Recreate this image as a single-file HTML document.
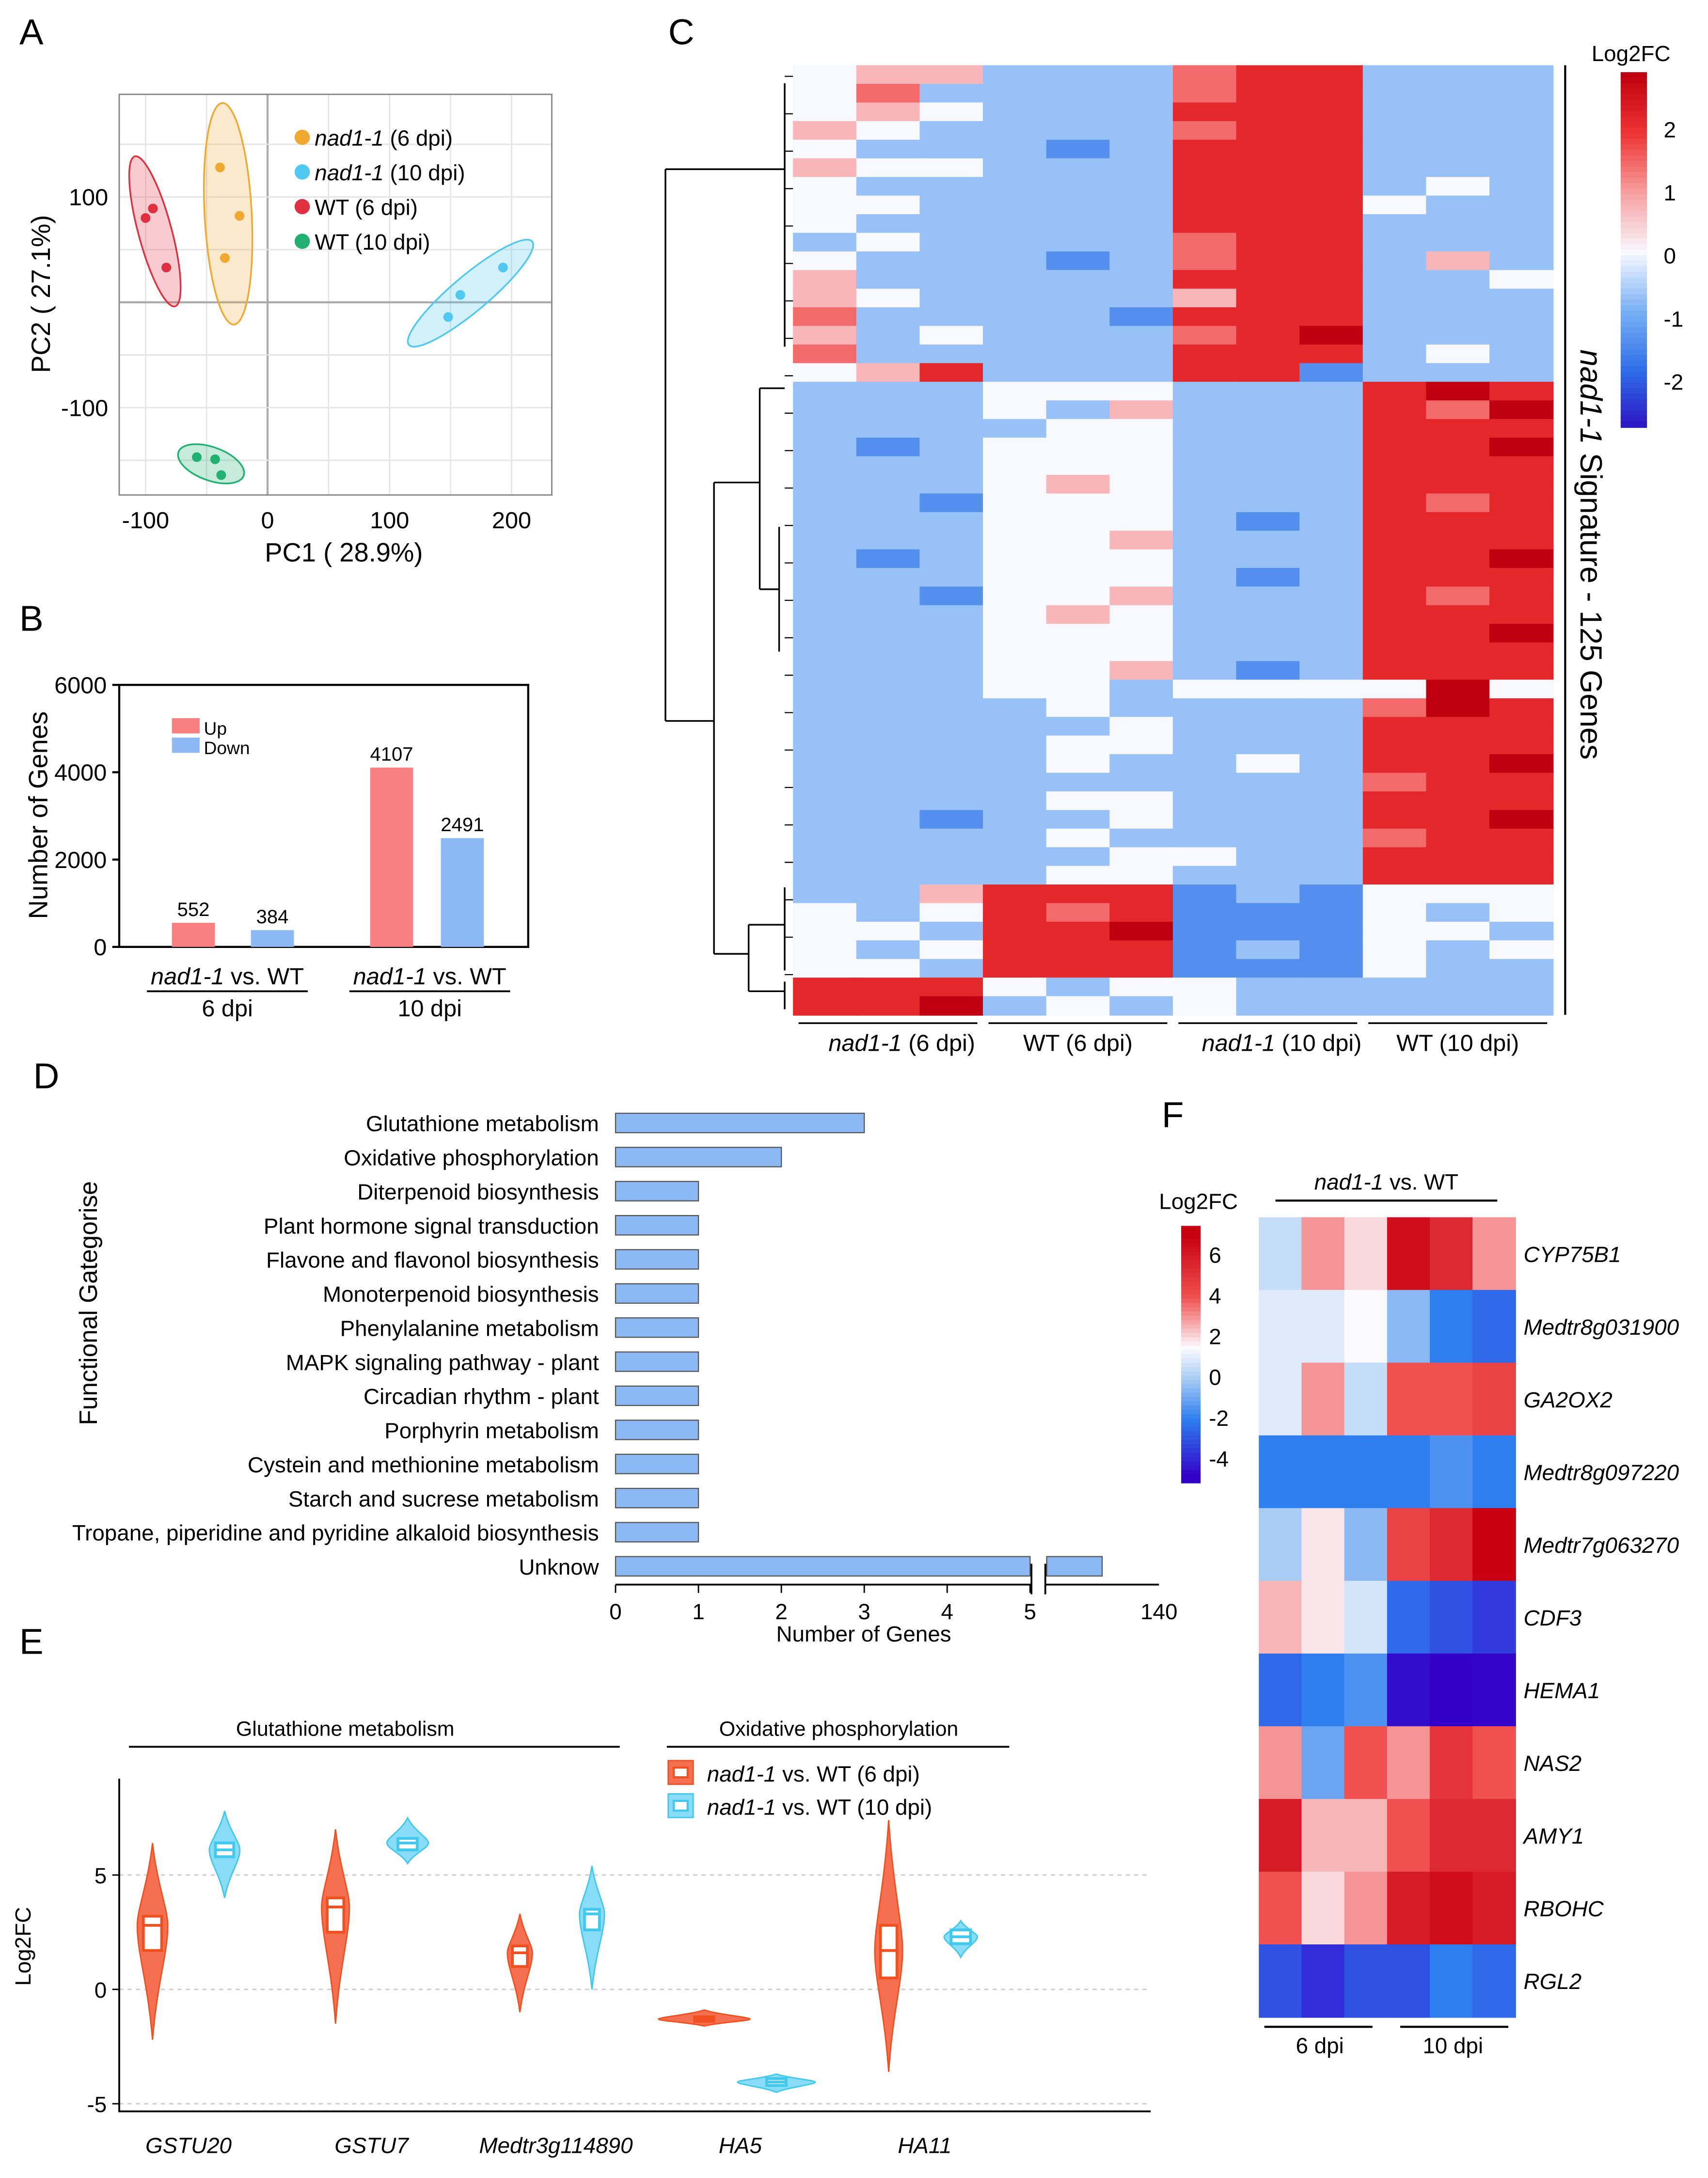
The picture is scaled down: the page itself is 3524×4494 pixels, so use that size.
<!DOCTYPE html>
<html><head><meta charset="utf-8"><style>
html,body{margin:0;padding:0;background:#fff}
svg{display:block;font-family:"Liberation Sans",Arial,sans-serif}
</style></head><body>
<svg id="fig" xmlns="http://www.w3.org/2000/svg" width="3524" height="4494" viewBox="0 0 1232 1571">
<rect x="0" y="0" width="1232" height="1571" fill="#fff"/>
<g font-size="26" fill="#000">
<text x="14" y="32">A</text>
<text x="14" y="455">B</text>
<text x="482" y="32">C</text>
<text x="24" y="785">D</text>
<text x="14" y="1193">E</text>
<text x="838" y="813">F</text>
</g>
<g id="pA"></g>
<g id="pB"></g>
<g id="pC"></g>
<g id="pD"></g>
<g id="pE"></g>
<g id="pF"></g>
</svg>
<script>
// ---------- DATA ----------
// Panel A
const pcaGroups = ["nad1-1 (6 dpi)","nad1-1 (10 dpi)","WT (6 dpi)","WT (10 dpi)"];
const pcaColors = ["#f0a830","#50c8f0","#e03040","#20b070"];
const pcaX = [[-39,-23,-35],[148,158,193],[-100,-94,-83],[-58,-43,-38]];
const pcaY = [[128,82,42],[-14,7,33],[80,89,33],[-147,-149,-164]];
const pcaXTicks = [-100,0,100,200];
const pcaYTicks = [100,-100];
// Panel B
const degGroups = ["6 dpi","10 dpi"];
const degUp = [552,4107];
const degDown = [384,2491];
const degTicks = [0,2000,4000,6000];
// Panel C (codes 0..8 -> log2FC (c-4)*0.75)
const sigRows = [
"455333677333","463333677333","454333777333","543333677333","433323777333","544333777333","433333777343","443333777433","433333777333","343333677333","433323677353","533333777334","543333577333","633332777333","534333678333","633333777343","457333772333",
"333444333787","333435333768","333344333777","323444333778","333444333777","333454333777","332444333767","333444323777","333445333777","323444333778","333444323777","332445333767","333454333777","333444333778","333444333777","333445323777",
"333443444484",
"333343333687","333334333777","333344333777","333343343778","333333333677","333344333777","332334333778","333343333677","333334433777","333344333777",
"335777232444","434767222434","443778222443","434777232434","443777222433",
"777434433333","778343433333"];
const sigColGroups = ["nad1-1 (6 dpi)","WT (6 dpi)","nad1-1 (10 dpi)","WT (10 dpi)"];
const sigTicks = [2,1,0,-1,-2];
// Panel D
const keggTerms = ["Glutathione metabolism","Oxidative phosphorylation","Diterpenoid biosynthesis","Plant hormone signal transduction ","Flavone and flavonol biosynthesis","Monoterpenoid biosynthesis","Phenylalanine metabolism","MAPK signaling pathway - plant","Circadian rhythm - plant","Porphyrin metabolism","Cystein and methionine metabolism","Starch and sucrese metabolism","Tropane, piperidine and pyridine alkaloid biosynthesis","Unknow"];
const keggCounts = [3,2,1,1,1,1,1,1,1,1,1,1,1,125];
const keggTicks = [0,1,2,3,4,5];
// Panel E
const vGenes = ["GSTU20","GSTU7","Medtr3g114890","HA5","HA11"];
const vMin6 = [-2.2,-1.5,-1,-1.6,-3.6];
const vMax6 = [6.4,7,3.3,-0.9,7.4];
const vQ1_6 = [1.7,2.5,1,-1.4,0.5];
const vQ3_6 = [3.2,4,1.9,-1.2,2.8];
const vMed6 = [2.8,3.6,1.6,-1.3,1.7];
const vDens6 = [11,10,9,33,10];
const vMin10 = [4,5.5,0,-4.5,1.4];
const vMax10 = [7.8,7.5,5.4,-3.7,3];
const vQ1_10 = [5.8,6.1,2.6,-4.2,2];
const vQ3_10 = [6.4,6.6,3.5,-3.9,2.6];
const vMed10 = [6.1,6.4,3.3,-4.05,2.3];
const vDens10 = [11,15,9,28,12];
const vTicks = [5,0,-5];
// Panel F
const fGenes = ["CYP75B1","Medtr8g031900","GA2OX2","Medtr8g097220","Medtr7g063270","CDF3","HEMA1","NAS2","AMY1","RBOHC","RGL2"];
const fVals = [
[0.5,3,2,6.5,5.5,3],[1,1,1.5,-0.5,-2,-2.5],[1,3,0.5,4,4,4.5],[-2,-2,-2,-2,-1.5,-2],
[0,1.8,-0.5,4.5,5.5,7],[2.5,1.8,0.8,-2.5,-3,-3.5],[-2.5,-2,-1.5,-4.5,-4.8,-4.7],
[3,-1,4,3,5,4],[6,2.5,2.5,4,5.5,5.5],[4,2,3,6,6.5,6],[-3,-3.8,-3,-3,-2,-2.5]];
const fTicks = [6,4,2,0,-2,-4];

// ---------- HELPERS ----------
const NS="http://www.w3.org/2000/svg";
function mk(parent,tag,attrs,txt){const e=document.createElementNS(NS,tag);for(const k in attrs)e.setAttribute(k,attrs[k]);if(txt!==undefined)e.textContent=txt;parent.appendChild(e);return e;}
function hex(c){return [parseInt(c.slice(1,3),16),parseInt(c.slice(3,5),16),parseInt(c.slice(5,7),16)];}
function cmap(stops,v){
  if(v<=stops[0][0])return stops[0][1];
  for(let i=1;i<stops.length;i++){if(v<=stops[i][0]){const a=stops[i-1],b=stops[i];const t=(v-a[0])/(b[0]-a[0]);const ca=hex(a[1]),cb=hex(b[1]);return "rgb("+ca.map((x,j)=>Math.round(x+(cb[j]-x)*t)).join(",")+")";}}
  return stops[stops.length-1][1];}
const cStops=[[-3,"#2a10c0"],[-2,"#2f6ee8"],[-1,"#78b0f4"],[0,"#f8f8ff"],[1,"#f8a0a0"],[2,"#ee3434"],[3,"#c00010"]];
const fStops=[[-4.8,"#3300c8"],[-2,"#2e7ef0"],[0,"#a8ccf4"],[1.5,"#fbfbff"],[4,"#f05050"],[7,"#c80010"]];

// ---------- PANEL A ----------
(function(){
const g=document.getElementById("pA");
const x0=86,x1=398,y0=68,y1=357;
const sx=v=>193+v*0.88, sy=v=>218-v*0.76;
for(let v=-150;v<=250;v+=50){if(sx(v)>x0&&sx(v)<x1){const l=mk(g,"line",{x1:sx(v),x2:sx(v),y1:y0,y2:y1,stroke:v===0?"#aaa":"#e6e6e6","stroke-width":v===0?1.5:1});}}
for(let v=-150;v<=150;v+=50){if(sy(v)>y0&&sy(v)<y1){const l=mk(g,"line",{x1:x0,x2:x1,y1:sy(v),y2:sy(v),stroke:v===0?"#aaa":"#e6e6e6","stroke-width":v===0?1.5:1});}}
const fr=mk(g,"rect",{x:x0,y:y0,width:x1-x0,height:y1-y0,fill:"none",stroke:"#888","stroke-width":1});

pcaXTicks.forEach(v=>{const t=mk(g,"text",{x:sx(v),y:y1+24,"font-size":17,"text-anchor":"middle"},v);});
pcaYTicks.forEach(v=>{const t=mk(g,"text",{x:x0-8,y:sy(v)+6,"font-size":17,"text-anchor":"end"},v);});
let t=mk(g,"text",{x:248,y:405,"font-size":19,"text-anchor":"middle"},"PC1 ( 28.9%)");
t=mk(g,"text",{x:36,y:212,"font-size":19,"text-anchor":"middle",transform:"rotate(-90 36 212)"},"PC2 ( 27.1%)");
const ellShape=[{rx:17,ry:80,r:-3},{rx:58,ry:13,r:-40},{rx:12,ry:56,r:-15},{rx:25,ry:12,r:20}];
pcaGroups.forEach((grp,i)=>{
  const mx=pcaX[i].reduce((a,b)=>a+b)/3, my=pcaY[i].reduce((a,b)=>a+b)/3;
  const cx=sx(mx),cy=sy(my),s=ellShape[i];
  const e=mk(g,"ellipse",{cx:cx,cy:cy,rx:s.rx,ry:s.ry,transform:`rotate(${s.r} ${cx} ${cy})`,fill:pcaColors[i],"fill-opacity":0.25,stroke:pcaColors[i],"stroke-width":1.2});
  
  pcaX[i].forEach((xv,j)=>{const c=mk(g,"circle",{cx:sx(xv),cy:sy(pcaY[i][j]),r:3.5,fill:pcaColors[i]});});
  const ly=99+i*25;
  const d=mk(g,"circle",{cx:218,cy:ly,r:5.5,fill:pcaColors[i]});
  const lt=mk(g,"text",{x:227,y:ly+6,"font-size":16});
  
  if(grp.startsWith("nad1-1")){mk(lt,"tspan",{"font-style":"italic"},"nad1-1");mk(lt,"tspan",{},grp.slice(6));}else lt.textContent=grp;
});
})();

// ---------- PANEL B ----------
(function(){
const g=document.getElementById("pB");
const x0=86,x1=381,y0=494,y1=683;
const sy=v=>y1-(v/6000)*(y1-y0);
const ax=mk(g,"path",{d:`M${x0} ${y0}H${x1}V${y1}H${x0}Z`,fill:"none",stroke:"#000","stroke-width":1.5});

degTicks.forEach(v=>{const l=mk(g,"line",{x1:x0-5,x2:x0,y1:sy(v),y2:sy(v),stroke:"#000","stroke-width":1.5});
 const t=mk(g,"text",{x:x0-9,y:sy(v)+6,"font-size":17,"text-anchor":"end"},v);});
let t=mk(g,"text",{x:34,y:588,"font-size":19,"text-anchor":"middle",transform:"rotate(-90 34 588)"},"Number of Genes");
const bw=31;
degGroups.forEach((grp,i)=>{
 const upX=i?267:124, dnX=i?318:181;
 let r=mk(g,"rect",{x:upX,y:sy(degUp[i]),width:bw,height:y1-sy(degUp[i]),fill:"#f98080"});
 r=mk(g,"rect",{x:dnX,y:sy(degDown[i]),width:bw,height:y1-sy(degDown[i]),fill:"#8cb8f4"});
 let v=mk(g,"text",{x:upX+bw/2,y:sy(degUp[i])-5,"font-size":14,"text-anchor":"middle"},degUp[i]);
 v=mk(g,"text",{x:dnX+bw/2,y:sy(degDown[i])-5,"font-size":14,"text-anchor":"middle"},degDown[i]);
 const cx=i?310:164;
 const l1=mk(g,"text",{x:cx,y:710,"font-size":17,"text-anchor":"middle"});
 mk(l1,"tspan",{"font-style":"italic"},"nad1-1");mk(l1,"tspan",{}," vs. WT");
 const ln=mk(g,"line",{x1:cx-58,x2:cx+58,y1:715,y2:715,stroke:"#000","stroke-width":1.3});
 const l2=mk(g,"text",{x:cx,y:733,"font-size":17,"text-anchor":"middle"},grp);
});
let lr=mk(g,"rect",{x:124,y:518,width:20,height:11,fill:"#f98080"});
lr=mk(g,"rect",{x:124,y:532,width:20,height:11,fill:"#8cb8f4"});
t=mk(g,"text",{x:147,y:530,"font-size":13},"Up");
t=mk(g,"text",{x:147,y:544,"font-size":13},"Down");
})();

// ---------- PANEL C ----------
(function(){
const g=document.getElementById("pC");
const x0=572,x1=1120,y0=47,y1=732;
const nr=sigRows.length,cw=(x1-x0)/12,rh=(y1-y0)/nr;
sigRows.forEach((row,i)=>{for(let j=0;j<12;j++){const v=(parseInt(row[j])-4)*0.75;
 const r=mk(g,"rect",{x:x0+j*cw,y:y0+i*rh,width:cw+0.6,height:rh+0.6,fill:cmap(cStops,v)});
 }});
const dd="M480 122V520 M480 122H566 M480 520H515 M515 348V688 M515 348H548 M548 280V425 M548 280H566 M548 425H562 M515 688H540 M540 667V715 M540 667H566 M540 715H566 M566 60V250 M562 380V470 M566 640V700 M566 708V728";
const dp=mk(g,"path",{d:dd,fill:"none",stroke:"#000","stroke-width":1.2});
for(let k=0;k<25;k++){const yy=y0+8+k*27;const l=mk(g,"line",{x1:566,x2:572,y1:yy,y2:yy,stroke:"#000","stroke-width":0.8});}
sigColGroups.forEach((grp,i)=>{
 const gx0=x0+i*3*cw;
 const l=mk(g,"line",{x1:gx0+4,x2:gx0+3*cw-4,y1:738,y2:738,stroke:"#000","stroke-width":1.2});
 const t=mk(g,"text",{x:gx0+1.5*cw+(i%2===0?10:0),y:758,"font-size":17,"text-anchor":"middle"});
 if(grp.startsWith("nad1-1")){mk(t,"tspan",{"font-style":"italic"},"nad1-1");mk(t,"tspan",{},grp.slice(6));}else t.textContent=grp;
});
const vl=mk(g,"line",{x1:1129,x2:1129,y1:y0,y2:y1,stroke:"#000","stroke-width":1.5});
const st=mk(g,"text",{x:1140,y:400,"font-size":22,"text-anchor":"middle",transform:"rotate(90 1140 400)"});
mk(st,"tspan",{"font-style":"italic"},"nad1-1");mk(st,"tspan",{}," Signature - 125 Genes");
const cb0=52,cbx=1169,cbw=19;
const sv=v=>184-v*45.5;
for(let k=0;k<64;k++){const v=3.0-k*(6.0/64);const r=mk(g,"rect",{x:cbx,y:cb0+k*4,width:cbw,height:4.6,fill:cmap(cStops,v)});}
sigTicks.forEach(v=>{const t=mk(g,"text",{x:1200,y:sv(v)+6,"font-size":16},v);});
const ct=mk(g,"text",{x:1148,y:44,"font-size":16},"Log2FC");
})();

// ---------- PANEL D ----------
(function(){
const g=document.getElementById("pD");
const xz=444,u=59.8,top=810,step=24.6,bh=14;
const sx=v=>xz+v*u;
keggTerms.forEach((term,i)=>{
 const y=top+i*step;
 const t=mk(g,"text",{x:432,y:y+6,"font-size":16,"text-anchor":"end"},term);
 let r;
 if(keggCounts[i]>5){
  r=mk(g,"rect",{x:xz,y:y-bh/2,width:sx(5)-xz,height:bh,fill:"#8cb8f4",stroke:"#555","stroke-width":0.8});
  const r2=mk(g,"rect",{x:755,y:y-bh/2,width:40+(keggCounts[i]-125)*2,height:bh,fill:"#8cb8f4",stroke:"#555","stroke-width":0.8});
 } else {
  r=mk(g,"rect",{x:xz,y:y-bh/2,width:sx(keggCounts[i])-xz,height:bh,fill:"#8cb8f4",stroke:"#555","stroke-width":0.8});
 }
});
const ax=mk(g,"path",{d:"M444 1143H744 M754 1143H836",stroke:"#000","stroke-width":1.3,fill:"none"});
const brk=mk(g,"path",{d:"M744 1128V1150 M754 1128V1150",stroke:"#000","stroke-width":1.3});
keggTicks.forEach(v=>{const l=mk(g,"line",{x1:sx(v),x2:sx(v),y1:1143,y2:1149,stroke:"#000"});
 const t=mk(g,"text",{x:sx(v),y:1168,"font-size":16,"text-anchor":"middle"},v);});
let t=mk(g,"text",{x:836,y:1168,"font-size":16,"text-anchor":"middle"},"140");
t=mk(g,"text",{x:623,y:1184,"font-size":16,"text-anchor":"middle"},"Number of Genes");
t=mk(g,"text",{x:70,y:940,"font-size":18,"text-anchor":"middle",transform:"rotate(-90 70 940)"},"Functional Gategorise");
})();

// ---------- PANEL E ----------
(function(){
const g=document.getElementById("pE");
const x0=86,x1=830,ytop=1283,ybot=1523;
const sy=v=>1435-v*16.5;
const gc=[136,268,401,534,667];
vTicks.forEach(v=>{const l=mk(g,"line",{x1:x0,x2:x1,y1:sy(v),y2:sy(v),stroke:"#ccc","stroke-dasharray":"3 3"});
 const tm=mk(g,"line",{x1:x0-5,x2:x0,y1:sy(v),y2:sy(v),stroke:"#000"});
 const t=mk(g,"text",{x:x0-9,y:sy(v)+6,"font-size":16,"text-anchor":"end"},v);});
const ax=mk(g,"path",{d:`M${x0} ${ytop}V${ybot}H${x1}`,fill:"none",stroke:"#000","stroke-width":1.3});
let t=mk(g,"text",{x:22,y:1404,"font-size":16,"text-anchor":"middle",transform:"rotate(-90 22 1404)"},"Log2FC");
function violin(cx,mn,mx,q1,q3,md,w,col,fill){
 const yt=sy(mx),yb=sy(mn),ym=sy(md);
 const d=`M${cx} ${yt} C${cx+w*0.3} ${yt+(ym-yt)*0.5} ${cx+w} ${ym-(ym-yt)*0.2} ${cx+w} ${ym} C${cx+w} ${ym+(yb-ym)*0.25} ${cx+w*0.3} ${ym+(yb-ym)*0.5} ${cx} ${yb} C${cx-w*0.3} ${ym+(yb-ym)*0.5} ${cx-w} ${ym+(yb-ym)*0.25} ${cx-w} ${ym} C${cx-w} ${ym-(ym-yt)*0.2} ${cx-w*0.3} ${yt+(ym-yt)*0.5} ${cx} ${yt}Z`;
 const p=mk(g,"path",{d:d,fill:fill,stroke:col,"stroke-width":1});
 const bw=Math.min(7,w*0.6);
 const b=mk(g,"rect",{x:cx-bw,y:sy(q3),width:2*bw,height:Math.max(2,sy(q1)-sy(q3)),fill:"#fff",stroke:col,"stroke-width":2});
 const m=mk(g,"line",{x1:cx-bw,x2:cx+bw,y1:ym,y2:ym,stroke:col,"stroke-width":2});
}
vGenes.forEach((gene,i)=>{
 violin(gc[i]-26,vMin6[i],vMax6[i],vQ1_6[i],vQ3_6[i],vMed6[i],vDens6[i],"#f05020","#f47050");
 violin(gc[i]+26,vMin10[i],vMax10[i],vQ1_10[i],vQ3_10[i],vMed10[i],vDens10[i],"#40c8ee","#88dcf6");
 const tl=mk(g,"text",{x:gc[i],y:1553,"font-size":16,"font-style":"italic","text-anchor":"middle"},gene);
});
let l=mk(g,"line",{x1:93,x2:447,y1:1260,y2:1260,stroke:"#000","stroke-width":1.3});
t=mk(g,"text",{x:249,y:1252,"font-size":15,"text-anchor":"middle"},"Glutathione metabolism");
l=mk(g,"line",{x1:481,x2:728,y1:1260,y2:1260,stroke:"#000","stroke-width":1.3});
t=mk(g,"text",{x:605,y:1252,"font-size":15,"text-anchor":"middle"},"Oxidative phosphorylation");
[["#f05020","#f47050","6 dpi",1279],["#40c8ee","#88dcf6","10 dpi",1303]].forEach(a=>{
 const r=mk(g,"rect",{x:482,y:a[3]-9,width:18,height:17,fill:a[1],stroke:a[0]});
 const r2=mk(g,"rect",{x:486,y:a[3]-4,width:10,height:7,fill:"#fff",stroke:a[0],"stroke-width":1.5});
 const tt=mk(g,"text",{x:510,y:a[3]+6,"font-size":16});
 mk(tt,"tspan",{"font-style":"italic"},"nad1-1");mk(tt,"tspan",{}," vs. WT ("+a[2]+")");
});
})();

// ---------- PANEL F ----------
(function(){
const g=document.getElementById("pF");
const x0=908,x1=1093,y0=878,y1=1455;
const cw=(x1-x0)/6,rh=(y1-y0)/fGenes.length;
fGenes.forEach((gene,i)=>{
 fVals[i].forEach((v,j)=>{const r=mk(g,"rect",{x:x0+j*cw,y:y0+i*rh,width:cw+0.5,height:rh+0.5,fill:cmap(fStops,v)});});
 const t=mk(g,"text",{x:1099,y:y0+i*rh+rh/2+6,"font-size":16,"font-style":"italic"},gene);
});
const cbx=852,cbw=14;
const sv=v=>993-v*14.7;
for(let k=0;k<60;k++){const v=7.4-k*(12.6/60);const r=mk(g,"rect",{x:cbx,y:sv(v),width:cbw,height:3.6,fill:cmap(fStops,v)});}
fTicks.forEach(v=>{const t=mk(g,"text",{x:872,y:sv(v)+6,"font-size":16},v);});
let t=mk(g,"text",{x:836,y:872,"font-size":16},"Log2FC");
t=mk(g,"text",{x:1000,y:858,"font-size":16,"text-anchor":"middle"});
mk(t,"tspan",{"font-style":"italic"},"nad1-1");mk(t,"tspan",{}," vs. WT");
let l=mk(g,"line",{x1:920,x2:1080,y1:866,y2:866,stroke:"#000","stroke-width":1.5});
l=mk(g,"line",{x1:912,x2:990,y1:1462,y2:1462,stroke:"#000","stroke-width":1.5});
l=mk(g,"line",{x1:1010,x2:1088,y1:1462,y2:1462,stroke:"#000","stroke-width":1.5});
t=mk(g,"text",{x:952,y:1481,"font-size":16,"text-anchor":"middle"},"6 dpi");
t=mk(g,"text",{x:1048,y:1481,"font-size":16,"text-anchor":"middle"},"10 dpi");
})();
</script>
</body></html>
